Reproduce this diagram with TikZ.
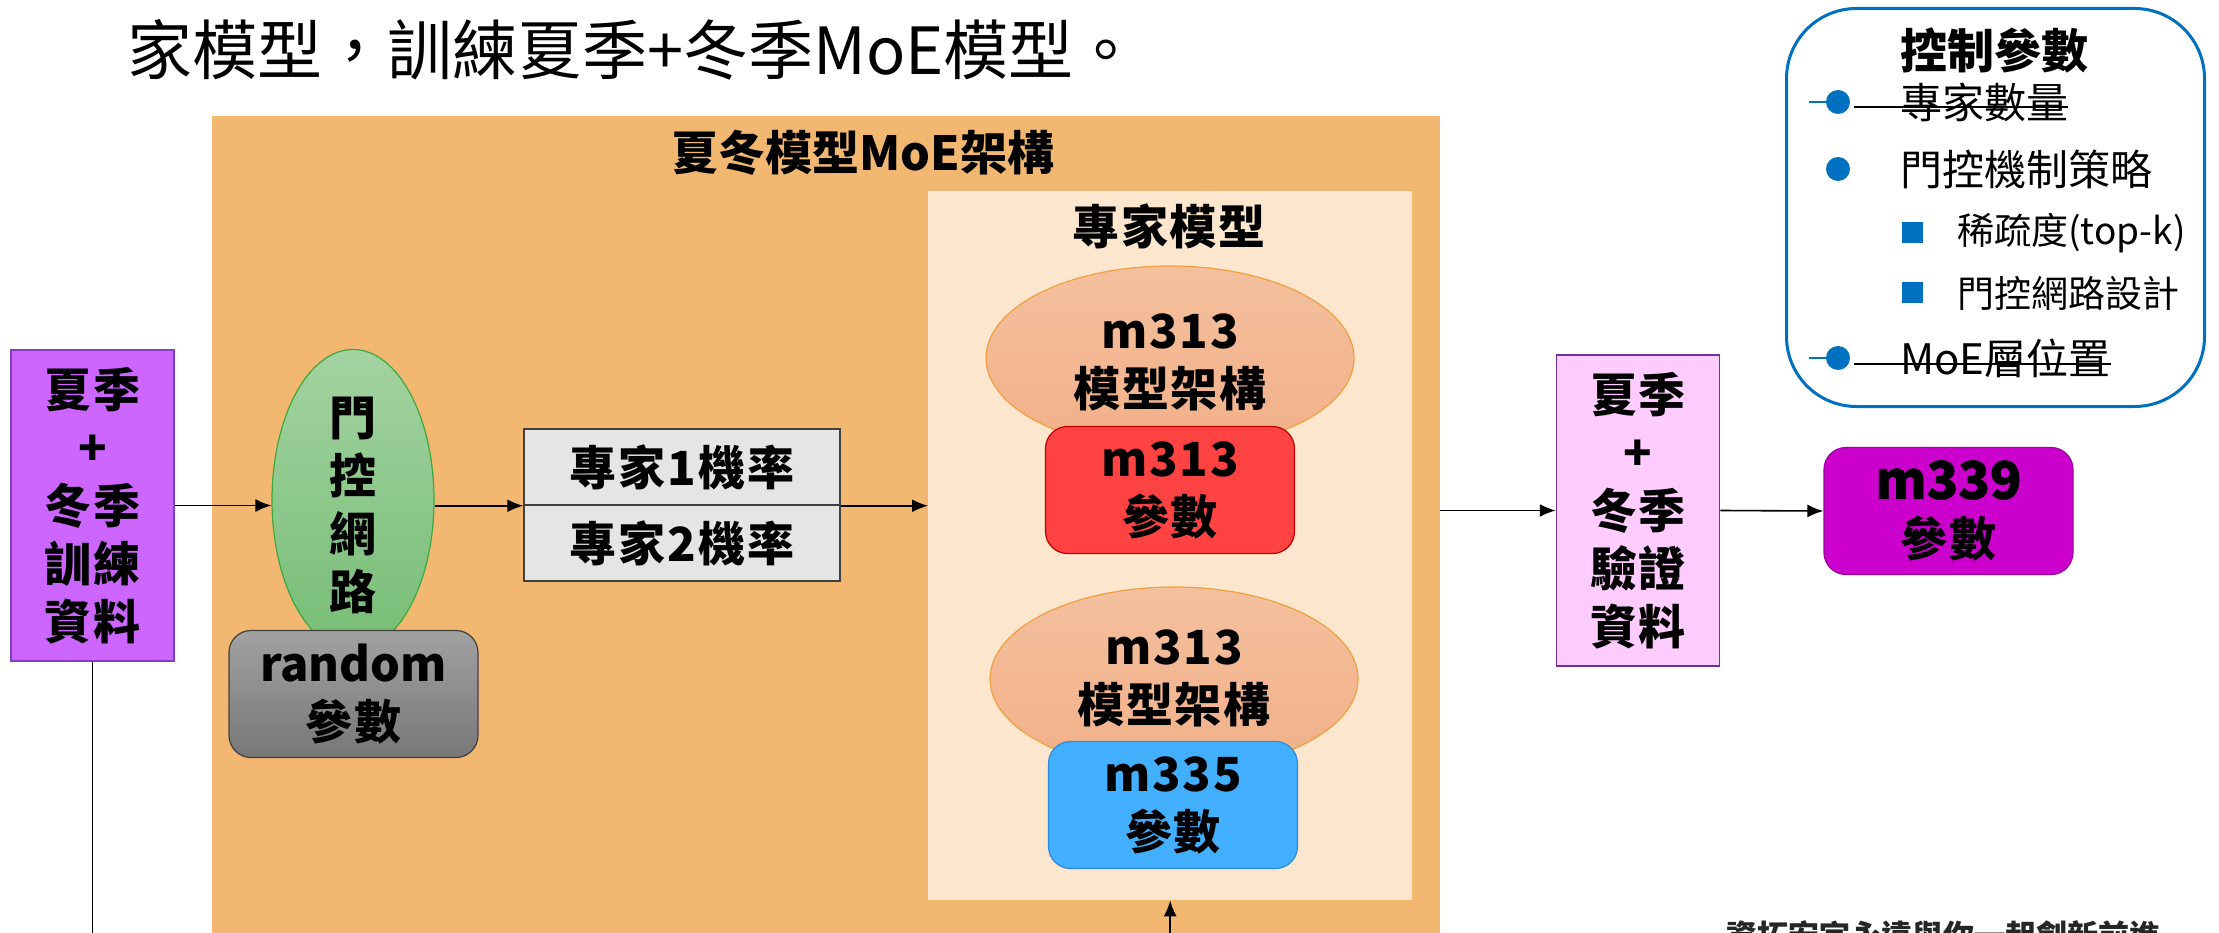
\documentclass[tikz,border=0pt]{standalone}
\usepackage{fontspec}
\usetikzlibrary{shapes.geometric,arrows.meta,calc}
\setmainfont{Noto Sans CJK TC}
\newfontfamily\cjk{Noto Sans CJK TC}
\newfontfamily\cjksp{Noto Sans CJK TC}[LetterSpace=4]
\newfontfamily\cjkmed{Noto Sans CJK TC}[FakeBold=1.2]
\definecolor{orangebg}{HTML}{F2B872}
\definecolor{innerbg}{HTML}{FCE6CD}
\definecolor{archtop}{HTML}{F4C09E}
\definecolor{archbot}{HTML}{F2B088}
\definecolor{archline}{HTML}{F0A040}
\definecolor{redfill}{HTML}{FF4343}
\definecolor{redline}{HTML}{C00000}
\definecolor{bluefill}{HTML}{42AFFF}
\definecolor{blueline}{HTML}{2E8BD8}
\definecolor{greentop}{HTML}{A3D3A1}
\definecolor{greenbot}{HTML}{77BD76}
\definecolor{greenline}{HTML}{3DA83D}
\definecolor{graytop}{HTML}{A2A2A2}
\definecolor{graybot}{HTML}{777777}
\definecolor{grayline}{HTML}{404040}
\definecolor{purplefill}{HTML}{CC66FF}
\definecolor{purpleline}{HTML}{8040C0}
\definecolor{pinkfill}{HTML}{FFCCFF}
\definecolor{pinkline}{HTML}{7030A0}
\definecolor{magfill}{HTML}{CC00CC}
\definecolor{magline}{HTML}{A000A0}
\definecolor{probfill}{HTML}{E5E5E5}
\definecolor{legendblue}{HTML}{0070C0}
\begin{document}
\begin{tikzpicture}[x=1pt,y=-1pt,
  arr/.style={line width=1.6pt,-{Latex[length=16pt,width=13pt]}},
  plainline/.style={line width=1.6pt},
  bx/.style={font=\cjksp\bfseries\fontsize{47}{58}\selectfont,align=center,inner sep=0pt},
  parbox/.style={bx,rounded corners=22pt,line width=1.2pt,minimum width=249pt,minimum height=127pt},
  archell/.style={ellipse,draw=archline,line width=1.2pt,top color=archtop,bottom color=archbot,minimum width=368pt,minimum height=184pt,inner sep=0pt},
  databox/.style={bx,line width=1.5pt,minimum width=163pt,minimum height=311pt},
  probbox/.style={bx,draw=grayline,fill=probfill,line width=1.5pt,minimum width=316pt,minimum height=76pt},
  bullet/.style={circle,fill=legendblue,minimum size=24pt,inner sep=0pt},
  sqbullet/.style={rectangle,fill=legendblue,minimum size=21pt,inner sep=0pt},
  litem/.style={anchor=west,font=\cjk\fontsize{42}{50}\selectfont,inner sep=0pt},
  lsub/.style={anchor=west,font=\cjk\fontsize{37}{44}\selectfont,inner sep=0pt},
  strike/.style={line width=2pt}]
\useasboundingbox (0,0) rectangle (2219,933);
\clip (0,0) rectangle (2219,933);
\fill[white] (0,0) rectangle (2219,933);

% top text
\node[font=\cjk\fontsize{65}{72}\selectfont,anchor=west,inner sep=0pt] (toptext) at (127,50) {家模型，訓練夏季+冬季MoE模型。};

% MoE frame
\node[anchor=north west,fill=orangebg,minimum width=1228pt,minimum height=840pt,inner sep=0pt] (moe) at (212,116) {};
\node[font=\cjk\bfseries\fontsize{47}{50}\selectfont,inner sep=0pt] (moetitle) at (863,153) {夏冬模型MoE架構};

% expert area
\node[anchor=north west,fill=innerbg,minimum width=484pt,minimum height=709pt,inner sep=0pt] (expert) at (928,191) {};
\node[bx] (experttitle) at (1169,226) {專家模型};

\node[archell] (arch1) at (1170,358) {};
\node[bx] (arch1text) at (1170,362) {m313\\模型架構};
\node[parbox,draw=redline,fill=redfill] (par1) at (1170,490) {m313\\參數};

\node[archell] (arch2) at (1174,679) {};
\node[bx] (arch2text) at (1174,678) {m313\\模型架構};
\node[parbox,draw=blueline,fill=bluefill] (par2) at (1173,805) {m335\\參數};

% gate
\node[ellipse,draw=greenline,line width=1.2pt,top color=greentop,bottom color=greenbot,minimum width=162pt,minimum height=301pt,inner sep=0pt] (gate) at (353,500) {};
\node[bx] (gatetext) at (353,505) {門\\控\\網\\路};
\node[parbox,draw=grayline,top color=graytop,bottom color=graybot] (rand) at (353.5,694) {{\cjk\bfseries random}\\參數};

% probabilities
\node[probbox] (p1) at (682,467) {專家1機率};
\node[probbox] (p2) at (682,543) {專家2機率};

% data boxes
\node[databox,draw=purpleline,fill=purplefill] (train) at (92.5,505.5) {夏季\\+\\冬季\\訓練\\資料};
\node[databox,draw=pinkline,fill=pinkfill] (val) at (1638,510.5) {夏季\\+\\冬季\\驗證\\資料};
\node[parbox,draw=magline,fill=magfill] (out) at (1948.5,511) {{\cjkmed\fontsize{52}{58}\selectfont m339}\\參數};

% connectors
\coordinate (trainend) at ([yshift=-400pt]train.south);
\coordinate (expin) at ([yshift=-100pt]expert.south);
\draw[plainline] (train.south) -- (trainend);
\draw[arr] (train.east) -- (train.east -| gate.west);
\draw[arr] (gate.east |- p1.south west) -- (p1.south west);
\draw[arr] (p1.south east) -- (p1.south east -| expert.west);
\draw[arr] (expin) -- (expert.south);
\draw[arr] (moe.east |- val.west) -- (val.west);
\draw[arr] (val.east) -- (out.west);

% legend
\node[draw=legendblue,line width=3pt,rounded corners=70pt,minimum width=418pt,minimum height=398pt,anchor=north west,inner sep=0pt] (legend) at (1785,7) {};
\node[font=\cjk\bfseries\fontsize{47}{50}\selectfont,inner sep=0pt] (ltitle) at (1994,50) {控制參數};
\node[bullet] (b1) at (1838,102) {};
\node[litem] (li1) at (1900,102) {專家數量};
\node[bullet] (b2) at (1838,169) {};
\node[litem] (li2) at (1900,169) {門控機制策略};
\node[sqbullet] (s1) at (1912,233) {};
\node[lsub] (ls1) at (1957,233) {稀疏度(top-k)};
\node[sqbullet] (s2) at (1912,293) {};
\node[lsub] (ls2) at (1957,293) {門控網路設計};
\node[bullet] (b3) at (1838,358) {};
\node[litem] (li3) at (1900,358) {MoE層位置};
\draw[strike,draw=legendblue] ([xshift=-17pt]b1.west) -- (b1.west);
\draw[strike] ([xshift=4pt,yshift=-5pt]b1.east) -- ([yshift=-5pt]li1.east);
\draw[strike,draw=legendblue] ([xshift=-17pt]b3.west) -- (b3.west);
\draw[strike] ([xshift=4pt,yshift=-6pt]b3.east) -- ([yshift=-6pt]li3.east);

% bottom text (cut off at the edge, as in the reference)
\node[font=\cjk\bfseries\fontsize{31}{36}\selectfont,anchor=north west,inner sep=0pt,text=black!85] (bottomtext) at (1726,920) {資拓宏宇永遠與你一起創新前進};
\end{tikzpicture}
\end{document}
